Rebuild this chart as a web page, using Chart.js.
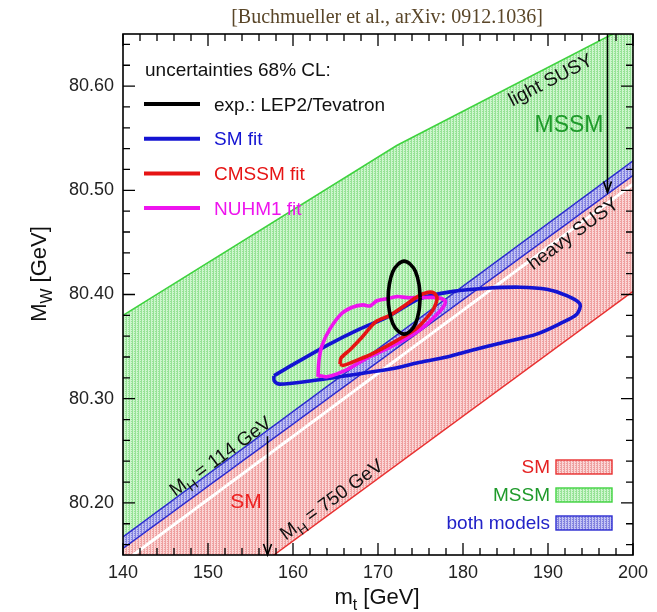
<!DOCTYPE html>
<html>
<head>
<meta charset="utf-8">
<script src="https://cdn.jsdelivr.net/npm/chart.js@4.4.0/dist/chart.umd.min.js"></script>
<style>
  html, body { margin: 0; padding: 0; background: #fff; }
  canvas { display: block; }
</style>
</head>
<body>
<canvas id="c" width="657" height="612"></canvas>
<script>
// ---- axis ticks ----
const xTicks = [140, 150, 160, 170, 180, 190, 200];
const yTicks = [80.20, 80.30, 80.40, 80.50, 80.60];

// ---- band boundaries: [mt, MW] in GeV ----
const mssmUpper   = [[140, 80.380], [172.2, 80.543], [197.6, 80.650], [200, 80.660]];
const mh114Upper  = [[140, 80.1673], [200, 80.5282]];
const mh114Lower  = [[140, 80.1564], [200, 80.5144]];
const smInnerEdge = [[140, 80.1428], [200, 80.5058]];
const mh750       = [[140, 80.0436], [200, 80.4031]];

// ---- 68% CL contours: [mt, MW] ----
const lepTevatron = [[174.96,80.397],[174.82,80.410],[174.41,80.422],[173.80,80.429],[173.08,80.432],
  [172.36,80.429],[171.75,80.422],[171.34,80.410],[171.20,80.397],[171.34,80.384],[171.75,80.372],
  [172.36,80.365],[173.08,80.362],[173.80,80.365],[174.41,80.372],[174.82,80.384],[174.96,80.397]];
const smFit = [[157.76,80.322],[160.04,80.333],[163.96,80.351],[167.88,80.367],[171.02,80.378],
  [174.94,80.396],[178.86,80.403],[182.79,80.406],[186.71,80.407],[189.85,80.405],[192.20,80.399],
  [193.76,80.391],[193.38,80.381],[191.41,80.372],[188.67,80.362],[184.74,80.354],[180.82,80.346],
  [178.08,80.340],[174.94,80.335],[171.80,80.329],[167.88,80.324],[162.00,80.317],[158.47,80.314],
  [157.80,80.317],[157.76,80.322]];
const cmssmFit = [[165.53,80.333],[165.65,80.339],[166.71,80.347],[168.12,80.359],[169.76,80.374],
  [171.41,80.380],[173.06,80.389],[174.47,80.397],[175.41,80.401],[176.47,80.402],[176.94,80.397],
  [176.59,80.387],[175.88,80.379],[174.47,80.367],[172.24,80.356],[169.29,80.343],[166.94,80.335],
  [165.88,80.332],[165.53,80.333]];
const nuhm1Fit = [[162.94,80.321],[163.06,80.337],[163.41,80.351],[164.35,80.367],[165.76,80.382],
  [167.06,80.388],[168.24,80.390],[169.06,80.389],[169.88,80.394],[171.06,80.396],[172.24,80.398],
  [173.41,80.397],[174.94,80.397],[176.94,80.397],[177.88,80.394],[177.76,80.389],[176.94,80.381],
  [175.53,80.370],[173.41,80.358],[171.06,80.348],[168.71,80.339],[166.35,80.328],[164.00,80.321],
  [163.18,80.322],[162.94,80.321]];

// ---- arrows: light SUSY / heavy SUSY ----
const lightArrow = [[197.0, 80.65], [197.0, 80.498]];
const heavyArrow = [[157.0, 80.264], [157.0, 80.15]];

// ---- legend entries ----
const fitNames  = ['exp.: LEP2/Tevatron', 'SM fit', 'CMSSM fit', 'NUHM1 fit'];
const bandNames = ['SM', 'MSSM', 'both models'];

const SANS = "'Liberation Sans', Arial, Helvetica, sans-serif";
const SERIF = "'Liberation Serif', 'Times New Roman', serif";

const canvas = document.getElementById('c');
const mainCtx = canvas.getContext('2d');

function makePattern(dark, light) {
  const c = document.createElement('canvas');
  c.width = 3; c.height = 2;
  const g = c.getContext('2d');
  g.fillStyle = light; g.fillRect(0, 0, 3, 2);
  g.fillStyle = dark; g.fillRect(0, 0, 1, 2); g.fillRect(2, 1, 1, 1);
  return mainCtx.createPattern(c, 'repeat');
}
const greenFill = makePattern('rgb(150,226,150)', 'rgb(206,246,206)');
const pinkFill  = makePattern('rgb(238,160,160)', 'rgb(251,214,214)');
const blueFill  = makePattern('rgb(130,130,222)', 'rgb(196,196,244)');

const fitColors  = ['#000000', '#1414d2', '#e61414', '#ee14ee'];
const bandColors = { SM: '#e52222', MSSM: '#1f9a2b', 'both models': '#2222c8' };
const bandEdge   = { SM: '#e83030', MSSM: '#3fd33f', 'both models': '#2b2bd0' };
const bandPat    = { SM: pinkFill, MSSM: greenFill, 'both models': blueFill };

const toPts = a => a.map(([x, y]) => ({ x, y }));

function bandLine(data, color, width, order, fill, bg) {
  return { data: toPts(data), borderColor: color, borderWidth: width, order,
           fill: fill === undefined ? false : fill, backgroundColor: bg || 'transparent',
           tension: 0, pointRadius: 0, clip: 0 };
}
function contour(data, color, order) {
  return { data: toPts(data), borderColor: color, borderWidth: 3.6, order, fill: false,
           tension: 0.3, pointRadius: 0, clip: 0, borderJoinStyle: 'round' };
}

const datasets = [
  bandLine(mssmUpper,   '#3fd33f', 1.5, 20, 1, greenFill),   // 0
  bandLine(mh114Upper,  '#2b2bd0', 1.4, 19, 2, blueFill),    // 1
  bandLine(mh114Lower,  '#2b2bd0', 1.4, 18, 4, pinkFill),    // 2
  bandLine(smInnerEdge, '#ffffff', 3.0, 17),                 // 3
  bandLine(mh750,       '#e83030', 1.4, 16),                 // 4
  bandLine(lightArrow,  '#000000', 1.5, 15),                 // 5
  bandLine(heavyArrow,  '#000000', 1.5, 15),                 // 6
  contour(smFit,       fitColors[1], 4),
  contour(nuhm1Fit,    fitColors[3], 3),
  contour(cmssmFit,    fitColors[2], 2),
  contour(lepTevatron, fitColors[0], 1)
];

// text with optional subscript pieces: parts = [[text, isSub], ...]
function drawParts(ctx, parts, x, y, size, color, align) {
  const subSize = size * 0.72;
  let w = 0;
  parts.forEach(([t, s]) => { ctx.font = `${s ? subSize : size}px ${SANS}`; w += ctx.measureText(t).width; });
  let cx = align === 'center' ? x - w / 2 : align === 'right' ? x - w : x;
  ctx.fillStyle = color; ctx.textAlign = 'left'; ctx.textBaseline = 'alphabetic';
  parts.forEach(([t, s]) => {
    ctx.font = `${s ? subSize : size}px ${SANS}`;
    ctx.fillText(t, cx, s ? y + size * 0.28 : y);
    cx += ctx.measureText(t).width;
  });
}

const plotLabels = [
  { parts: [['light SUSY', 0]], x: 190.24, y: 80.6067, angle: 27.5, size: 19, color: '#111' },
  { parts: [['heavy SUSY', 0]], x: 192.88, y: 80.4591, angle: 36.5, size: 19, color: '#111' },
  { parts: [['M', 0], ['H', 1], [' = 114 GeV', 0]], x: 151.41, y: 80.2452, angle: 36.3, size: 19, color: '#111' },
  { parts: [['M', 0], ['H', 1], [' = 750 GeV', 0]], x: 164.47, y: 80.2038, angle: 36.3, size: 19, color: '#111' },
  { parts: [['MSSM', 0]], x: 192.47, y: 80.5635, angle: 0, size: 23, color: '#1f9a2b' },
  { parts: [['SM', 0]],   x: 154.47, y: 80.2019, angle: 0, size: 21, color: '#ee2222' }
];

const decorations = {
  id: 'decorations',
  afterDatasetsDraw(chart) {
    const { ctx, chartArea: a, scales: { x, y } } = chart;
    ctx.save();

    // arrowheads at the lower end of each arrow
    [lightArrow, heavyArrow].forEach(arr => {
      const tx = x.getPixelForValue(arr[1][0]);
      const ty = Math.min(y.getPixelForValue(arr[1][1]), a.bottom);
      ctx.strokeStyle = '#000'; ctx.lineWidth = 1.6;
      ctx.beginPath();
      ctx.moveTo(tx - 4, ty - 11); ctx.lineTo(tx, ty); ctx.lineTo(tx + 4, ty - 11);
      ctx.stroke();
    });

    // labels inside the plot
    plotLabels.forEach(l => {
      ctx.save();
      ctx.translate(x.getPixelForValue(l.x), y.getPixelForValue(l.y));
      ctx.rotate(-l.angle * Math.PI / 180);
      drawParts(ctx, l.parts, 0, l.size * 0.36, l.size, l.color, 'center');
      ctx.restore();
    });

    // fit legend (upper left)
    ctx.font = `19px ${SANS}`; ctx.fillStyle = '#111'; ctx.textBaseline = 'middle'; ctx.textAlign = 'left';
    ctx.fillText('uncertainties 68% CL:', 145, 71);
    fitNames.forEach((name, i) => {
      const ly = 104 + i * 34.7;
      ctx.strokeStyle = fitColors[i]; ctx.lineWidth = 4;
      ctx.beginPath(); ctx.moveTo(144, ly); ctx.lineTo(200, ly); ctx.stroke();
      ctx.fillStyle = i === 0 ? '#111' : fitColors[i];
      ctx.font = `19px ${SANS}`; ctx.textBaseline = 'middle';
      ctx.fillText(name, 214, ly + 1.5);
    });

    // band legend (lower right)
    bandNames.forEach((name, i) => {
      const cy = 467 + i * 28;
      ctx.fillStyle = bandPat[name];
      ctx.fillRect(556, cy - 7, 56, 14);
      ctx.strokeStyle = bandEdge[name]; ctx.lineWidth = 1.4;
      ctx.strokeRect(556, cy - 7, 56, 14);
      ctx.fillStyle = bandColors[name];
      ctx.font = `19px ${SANS}`; ctx.textAlign = 'right'; ctx.textBaseline = 'middle';
      ctx.fillText(name, 550, cy + 1);
    });

    // frame and inward ticks on all four sides
    ctx.strokeStyle = '#000'; ctx.lineWidth = 1.3;
    ctx.beginPath();
    for (let v = 140; v <= 200; v += 2) {
      const px = x.getPixelForValue(v);
      const len = v % 10 === 0 ? 12 : 7;
      ctx.moveTo(px, a.bottom); ctx.lineTo(px, a.bottom - len);
      ctx.moveTo(px, a.top); ctx.lineTo(px, a.top + len);
    }
    for (let m = 8016; m <= 8064; m += 2) {
      const py = y.getPixelForValue(m / 100);
      const len = m % 10 === 0 ? 12 : 7;
      ctx.moveTo(a.left, py); ctx.lineTo(a.left + len, py);
      ctx.moveTo(a.right, py); ctx.lineTo(a.right - len, py);
    }
    ctx.stroke();
    ctx.lineWidth = 1.6;
    ctx.strokeRect(a.left, a.top, a.right - a.left, a.bottom - a.top);

    // title
    ctx.font = `20px ${SERIF}`; ctx.fillStyle = '#5a4628';
    ctx.textAlign = 'center'; ctx.textBaseline = 'alphabetic';
    ctx.fillText('[Buchmueller et al., arXiv: 0912.1036]', 387, 23);

    // axis titles
    drawParts(ctx, [['m', 0], ['t', 1], [' [GeV]', 0]], 377, 604, 22, '#111', 'center');
    ctx.save();
    ctx.translate(46, 274); ctx.rotate(-Math.PI / 2);
    drawParts(ctx, [['M', 0], ['W', 1], [' [GeV]', 0]], 0, 0, 22, '#111', 'center');
    ctx.restore();

    ctx.restore();
  }
};

new Chart(canvas, {
  type: 'scatter',
  data: { datasets: datasets.map(d => Object.assign({ showLine: true }, d)) },
  options: {
    responsive: false,
    animation: false,
    devicePixelRatio: 1,
    layout: { padding: { left: 0, right: 24, top: 34, bottom: 0 } },
    plugins: { legend: { display: false }, tooltip: { enabled: false } },
    scales: {
      x: {
        type: 'linear', min: 140, max: 200,
        afterBuildTicks: s => { s.ticks = xTicks.map(v => ({ value: v })); },
        afterFit: s => { s.height = 57; },
        ticks: { color: '#222', font: { family: SANS, size: 18 }, padding: 7, maxRotation: 0 },
        grid: { display: false, drawTicks: false },
        border: { display: false }
      },
      y: {
        type: 'linear', min: 80.15, max: 80.65,
        afterBuildTicks: s => { s.ticks = yTicks.map(v => ({ value: v })); },
        afterFit: s => { s.width = 123; },
        ticks: { color: '#222', font: { family: SANS, size: 18 }, padding: 9,
                 callback: v => v.toFixed(2) },
        grid: { display: false, drawTicks: false },
        border: { display: false }
      }
    }
  },
  plugins: [decorations]
});
</script>
</body>
</html>
